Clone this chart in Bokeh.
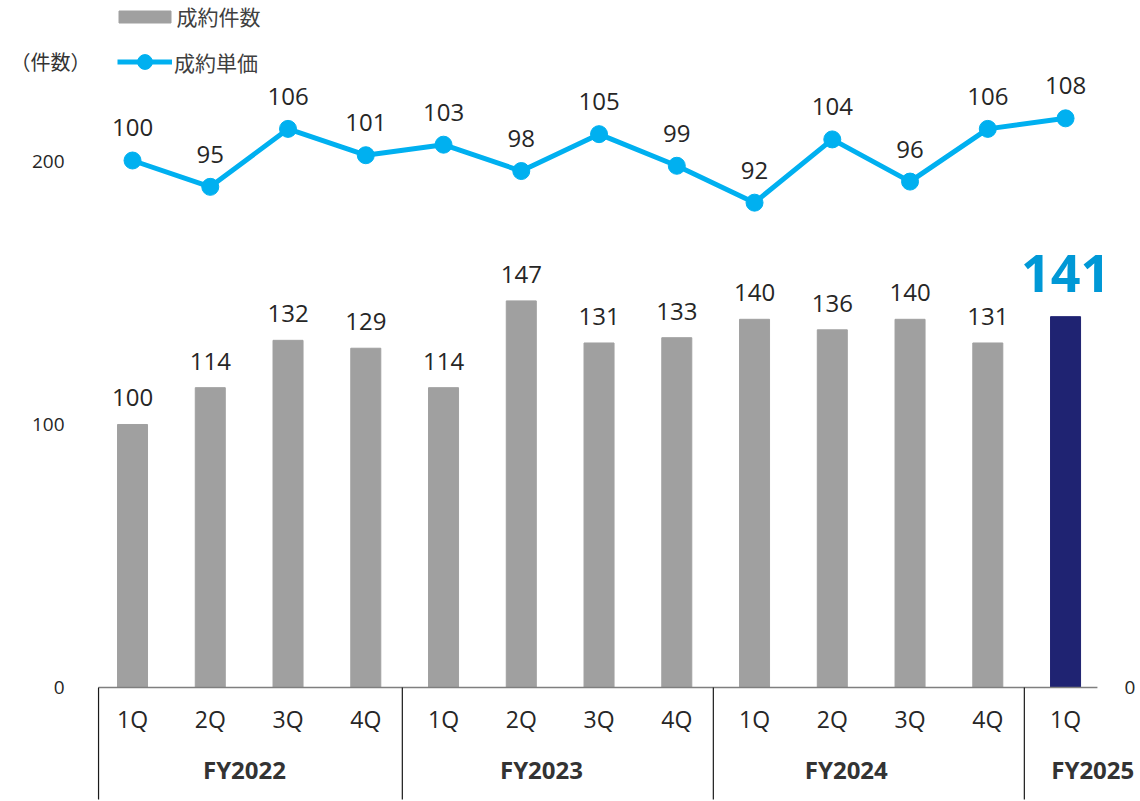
from bokeh.plotting import figure
from bokeh.models import (Range1d, ColumnDataSource, LabelSet, Legend, LegendItem, Label)
from bokeh.core.properties import value
from bokeh.embed import file_html
from bokeh.resources import INLINE

# ---------------- data ----------------
fiscal_years = ["FY2022", "FY2023", "FY2024", "FY2025"]
quarters_per_year = [4, 4, 4, 1]
quarters = ["1Q", "2Q", "3Q", "4Q", "1Q", "2Q", "3Q", "4Q", "1Q", "2Q", "3Q", "4Q", "1Q"]
contracts = [100, 114, 132, 129, 114, 147, 131, 133, 140, 136, 140, 131, 141]   # 成約件数
unit_price = [100, 95, 106, 101, 103, 98, 105, 99, 92, 104, 96, 106, 108]      # 成約単価
left_ticks = [0, 100, 200]
right_ticks = [0]

# ---------------- style / layout ----------------
W, H = 1140, 801
BAR_COLOR = "#a0a0a0"
HIGHLIGHT_COLOR = "#1f2372"
LINE_COLOR = "#00b0f0"
BIG_LABEL_COLOR = "#0098d6"
TEXT_COLOR = "#262626"
NUM_FONT = "Open Sans"
CJK_FONT = "Noto Sans CJK JP"

n = len(contracts)
xs = list(range(n))
x_start, x_end = -1.698, 12.964          # full-canvas frame
axis_x0, axis_x1 = -0.437, 12.41         # category axis extent
y_left = (-43.35, 261.22)
y_right = (-21.63, 130.36)

p = figure(width=W, height=H, output_backend="svg", toolbar_location=None,
           x_range=Range1d(x_start, x_end), y_range=Range1d(*y_left),
           min_border=0)
p.extra_y_ranges = {"price": Range1d(*y_right)}
p.axis.visible = False
p.grid.visible = False
p.outline_line_color = None
p.background_fill_color = "white"
p.border_fill_color = "white"

# y tick labels (left: count scale, right: price scale)
lt_src = ColumnDataSource(dict(x=[axis_x0] * len(left_ticks), y=left_ticks,
                               label=[str(t) for t in left_ticks]))
p.add_layout(LabelSet(x="x", y="y", text="label", source=lt_src, x_offset=-34,
                      text_align="right", text_baseline="middle",
                      text_font=value(NUM_FONT), text_font_size="19px", text_color=TEXT_COLOR))
rt_src = ColumnDataSource(dict(x=[axis_x1] * len(right_ticks), y=right_ticks,
                               label=[str(t) for t in right_ticks]))
p.add_layout(LabelSet(x="x", y="y", text="label", source=rt_src, y_range_name="price",
                      x_offset=27, text_align="left", text_baseline="middle",
                      text_font=value(NUM_FONT), text_font_size="19px", text_color=TEXT_COLOR))

# ---------------- bars ----------------
colors = [BAR_COLOR] * (n - 1) + [HIGHLIGHT_COLOR]
bar_src = ColumnDataSource(dict(x=xs, top=contracts, color=colors))
bars = p.vbar(x="x", top="top", width=0.386, color="color", source=bar_src)

# category baseline
p.segment(x0=[axis_x0], y0=[0], x1=[axis_x1], y1=[0], line_color="#7f7f7f", line_width=1.5)

# group separators
bounds = []
acc = 0
for q in quarters_per_year[:-1]:
    acc += q
    bounds.append(acc - 0.53)
sep_x = [axis_x0] + bounds
p.segment(x0=sep_x, y0=[0] * len(sep_x), x1=sep_x, y1=[-42.6] * len(sep_x),
          line_color="#1a1a1a", line_width=1.2)

# bar value labels
norm_src = ColumnDataSource(dict(x=xs[:-1], y=contracts[:-1],
                                 label=[str(v) for v in contracts[:-1]]))
p.add_layout(LabelSet(x="x", y="y", text="label", source=norm_src, y_offset=18,
                      text_align="center", text_baseline="alphabetic",
                      text_font=value(NUM_FONT), text_font_size="24px", text_color=TEXT_COLOR))
hi_src = ColumnDataSource(dict(x=xs[-1:], y=contracts[-1:], label=[str(contracts[-1])]))
p.add_layout(LabelSet(x="x", y="y", text="label", source=hi_src, y_offset=25,
                      text_align="center", text_baseline="alphabetic",
                      text_font=value(NUM_FONT), text_font_style="bold",
                      text_font_size="52px", text_color=BIG_LABEL_COLOR))

# ---------------- line ----------------
line_src = ColumnDataSource(dict(x=xs, y=unit_price, label=[str(v) for v in unit_price]))
ln = p.line("x", "y", source=line_src, y_range_name="price",
            line_color=LINE_COLOR, line_width=5)
mk = p.scatter("x", "y", source=line_src, y_range_name="price", size=17,
               fill_color=LINE_COLOR, line_color=LINE_COLOR)
p.add_layout(LabelSet(x="x", y="y", text="label", source=line_src, y_range_name="price",
                      y_offset=24, text_align="center", text_baseline="alphabetic",
                      text_font=value(NUM_FONT), text_font_size="24px", text_color=TEXT_COLOR))

# ---------------- category labels ----------------
q_src = ColumnDataSource(dict(x=xs, y=[-11.8] * n, label=quarters))
p.add_layout(LabelSet(x="x", y="y", text="label", source=q_src,
                      text_align="center", text_baseline="middle",
                      text_font=value(NUM_FONT), text_font_size="23px", text_color=TEXT_COLOR))
group_label_x = [1.44, 5.26, 9.18, 12.35]
g_src = ColumnDataSource(dict(x=group_label_x, y=[-31.2] * len(fiscal_years), label=fiscal_years))
p.add_layout(LabelSet(x="x", y="y", text="label", source=g_src,
                      text_align="center", text_baseline="middle",
                      text_font=value(NUM_FONT), text_font_style="bold",
                      text_font_size="24px", text_color="#333333"))

# ---------------- legends ----------------
leg1 = Legend(items=[LegendItem(label="成約件数", renderers=[bars], index=0)],
              location=(111.5, H - 31), orientation="vertical",
              glyph_width=65, glyph_height=15, label_height=15, label_standoff=0,
              padding=0, margin=0, spacing=0, border_line_color=None,
              background_fill_alpha=0, label_text_font=CJK_FONT,
              label_text_font_size="21px", label_text_color="#404040")
leg2 = Legend(items=[LegendItem(label="成約単価", renderers=[ln, mk])],
              location=(117, H - 80), orientation="vertical",
              glyph_width=55, glyph_height=37, label_height=37, label_standoff=2,
              padding=0, margin=0, spacing=0, border_line_color=None,
              background_fill_alpha=0, label_text_font=CJK_FONT,
              label_text_font_size="21px", label_text_color="#404040")
p.add_layout(leg1, "center")
p.add_layout(leg2, "center")

p.add_layout(Label(x=10, y=H - 61, x_units="screen", y_units="screen",
                   text="（件数）", text_baseline="middle", text_align="left",
                   text_font=CJK_FONT, text_font_size="20px", text_color="#333333"))

open("out.html", "w").write(file_html(p, INLINE))
